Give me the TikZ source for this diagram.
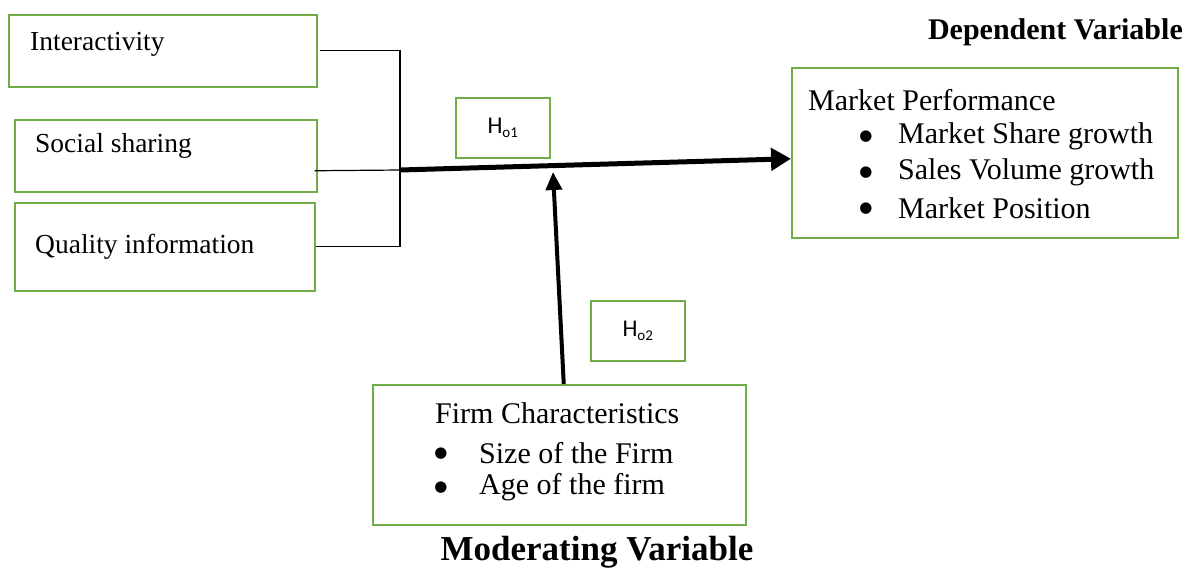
\documentclass[tikz,border=0pt]{standalone}
\usepackage{fontspec}
\setmainfont{Liberation Serif}
\newfontfamily\calfont{Carlito}
\newfontfamily\bulfont{DejaVu Sans}
\usetikzlibrary{arrows.meta}
\definecolor{boxgreen}{RGB}{112,173,71}
\begin{document}
\begin{tikzpicture}[x=1pt,y=-1pt,
  box/.style={draw=boxgreen, line width=1.5pt, inner sep=0pt, anchor=north west},
  txt/.style={inner sep=0pt, anchor=west, font=\fontsize{27.5}{32}\selectfont},
  bigtxt/.style={inner sep=0pt, anchor=west, font=\fontsize{30}{34}\selectfont},
  bul/.style={inner sep=0pt, font=\bulfont\fontsize{15}{15}\selectfont},
  hd/.style={inner sep=0pt, font=\fontsize{30}{34}\selectfont\bfseries},
  hl/.style={inner sep=0pt, font=\calfont\fontsize{24}{26}\selectfont},
  thinline/.style={line width=1.2pt},
  thickarrow/.style={line width=5pt, -{Triangle[length=20pt,width=22pt]}},
  modarrow/.style={line width=4pt, -{Triangle[length=18pt,width=16pt]}}]
\useasboundingbox[fill=white] (0,0) rectangle (1188,568);
% boxes
\node[box, minimum width=308pt, minimum height=72pt] (int) at (8,14) {};
\node[box, minimum width=302pt, minimum height=72pt] (soc) at (14,119) {};
\node[box, minimum width=300pt, minimum height=88pt] (qual) at (14,202) {};
\node[box, minimum width=94pt, minimum height=60pt] (h1) at (455,97) {};
\node[box, minimum width=386pt, minimum height=170pt] (mp) at (791,67) {};
\node[box, minimum width=94pt, minimum height=60pt] (h2) at (590,300) {};
\node[box, minimum width=373pt, minimum height=140pt] (fc) at (372,384) {};
% texts
\node[txt] (tint) at (30,44) {Interactivity};
\node[txt] (tsoc) at (35,146) {Social sharing};
\node[txt] (tqual) at (35,247) {Quality information};
\node[hl] (th1) at (h1.center) {H\raisebox{-0.3ex}{\fontsize{15}{15}\selectfont o1}};
\node[hl] (th2) at (h2.center) {H\raisebox{-0.3ex}{\fontsize{15}{15}\selectfont o2}};
\node[bigtxt] (tmp) at (808,100) {Market Performance};
\node[bul] (b1) at (866,137) {●};
\node[bigtxt] (tmp1) at (898,136) {Market Share growth};
\node[bul] (b2) at (866,173) {●};
\node[bigtxt] (tmp2) at (898,172) {Sales Volume growth};
\node[bul] (b3) at (866,209) {●};
\node[bigtxt] (tmp3) at (898,208) {Market Position};
\node[bigtxt] (tfc) at (435,413) {Firm Characteristics};
\node[bul] (b4) at (441,454) {●};
\node[bigtxt] (tfc1) at (479,453) {Size of the Firm};
\node[bul] (b5) at (441,488) {●};
\node[bigtxt] (tfc2) at (479,487) {Age of the firm};
\node[hd, anchor=east] (dep) at (1183,32) {Dependent Variable};
\node[hd, font=\fontsize{35}{38}\selectfont\bfseries] (mod) at (597,552) {Moderating Variable};
% connectors
\coordinate (J) at (400,170);
\coordinate (tipM) at (553,172);
\draw[thinline] ([xshift=2pt]int.east) -- (J |- int.east) -- (J |- qual.east) -- (qual.east);
\draw[thinline] ([xshift=-3pt,yshift=-15pt]soc.east) -- (J);
\draw[thickarrow] (J) -- ([yshift=-6pt]mp.west);
\draw[modarrow] ([xshift=4.5pt]fc.north) -- (tipM);
\end{tikzpicture}
\end{document}
